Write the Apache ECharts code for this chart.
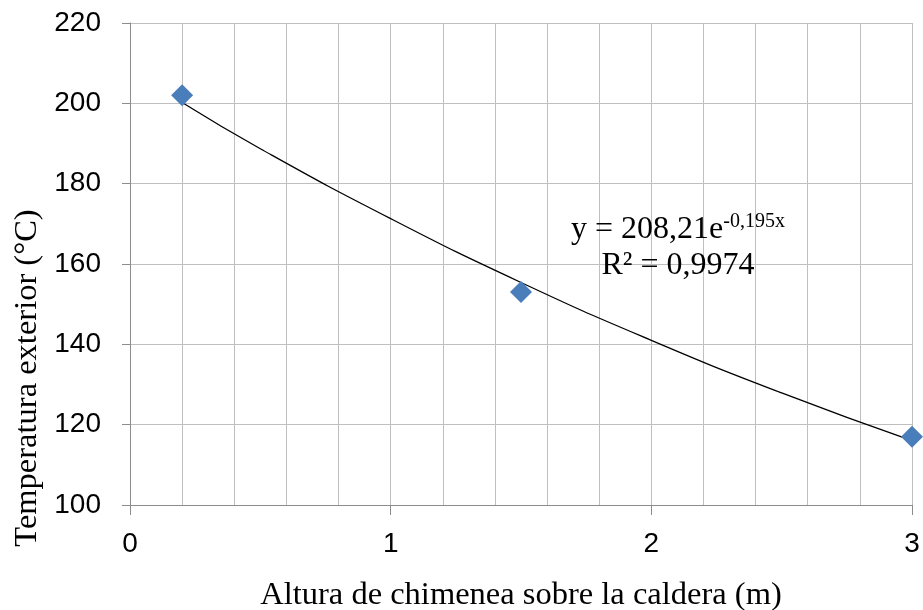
<!DOCTYPE html>
<html>
<head>
<meta charset="utf-8">
<script src="https://cdn.jsdelivr.net/npm/echarts@6/dist/echarts.min.js"></script>
<style>html,body{margin:0;padding:0;background:#fff}#c{width:923px;height:610px}</style>
</head>
<body>
<div id="c"></div>
<script>
// Measured points
var altura = [0.2, 1.5, 3.0];
var temperatura = [202, 153, 117];
// Trendline
var trendX = [0.2, 0.5, 1.0, 1.5, 2.0, 2.5, 3.0];
var trendY = [200.2, 188.7, 171.3, 155.4, 141.0, 127.9, 116.0];
var xTitle = 'Altura de chimenea sobre la caldera (m)';
var yTitle = 'Temperatura exterior (°C)';
var eqMain = 'y = 208,21e';
var eqExp = '-0,195x';
var r2Text = 'R² = 0,9974';

var chart = echarts.init(document.getElementById('c'), null, {renderer: 'canvas'});
var grid = '#bfbfbf';
chart.setOption({
  animation: false,
  backgroundColor: '#fff',
  grid: {left: 130, right: 11, top: 23, bottom: 105, containLabel: false, outerBoundsMode: 'none'},
  xAxis: {
    type: 'value', min: 0, max: 3, interval: 1,
    name: xTitle, nameLocation: 'middle', nameGap: 74,
    nameTextStyle: {fontFamily: 'Liberation Serif', fontSize: 32.5, color: '#000'},
    axisLine: {show: true, lineStyle: {color: '#8c8c8c', width: 1}},
    axisTick: {show: true, inside: false, length: 10, lineStyle: {color: '#8c8c8c'}},
    axisLabel: {fontFamily: 'Liberation Sans', fontSize: 28, color: '#000', margin: 25},
    splitLine: {show: true, lineStyle: {color: grid, width: 1}},
    minorTick: {show: false, splitNumber: 5},
    minorSplitLine: {show: true, lineStyle: {color: grid, width: 1}}
  },
  yAxis: {
    type: 'value', min: 100, max: 220, interval: 20,
    axisLine: {show: true, lineStyle: {color: '#8c8c8c', width: 1}},
    axisTick: {show: true, inside: false, length: 8, lineStyle: {color: '#8c8c8c'}},
    axisLabel: {fontFamily: 'Liberation Sans', fontSize: 28, color: '#000', margin: 29},
    splitLine: {show: true, lineStyle: {color: grid, width: 1}}
  },
  series: [
    {
      type: 'line', smooth: true, showSymbol: false, symbol: 'none',
      data: trendX.map(function (x, i) { return [x, trendY[i]]; }),
      lineStyle: {color: '#000', width: 1.3}, z: 2
    },
    {
      type: 'scatter', symbol: 'diamond', symbolSize: [22, 22],
      data: altura.map(function (x, i) { return [x, temperatura[i]]; }),
      itemStyle: {color: '#4a7ebb', opacity: 1}, z: 3
    }
  ],
  graphic: [
    {
      type: 'text', x: 27, y: 378, rotation: Math.PI / 2, z: 10,
      style: {
        text: yTitle, fontFamily: 'Liberation Serif', fontSize: 32.5, fill: '#000',
        align: 'center', verticalAlign: 'middle'
      }
    },
    {
      type: 'text', x: 678, y: 248, z: 10,
      style: {
        text: '{m|' + eqMain + '}{s|' + eqExp + '}\n{m|' + r2Text + '}',
        align: 'center', verticalAlign: 'middle',
        rich: {
          m: {fontFamily: 'Liberation Serif', fontSize: 32, fill: '#000', lineHeight: 36, align: 'center'},
          s: {fontFamily: 'Liberation Serif', fontSize: 20, fill: '#000', lineHeight: 36, verticalAlign: 'top', padding: [0, 0, 12, 0]}
        }
      }
    }
  ]
});
</script>
</body>
</html>
